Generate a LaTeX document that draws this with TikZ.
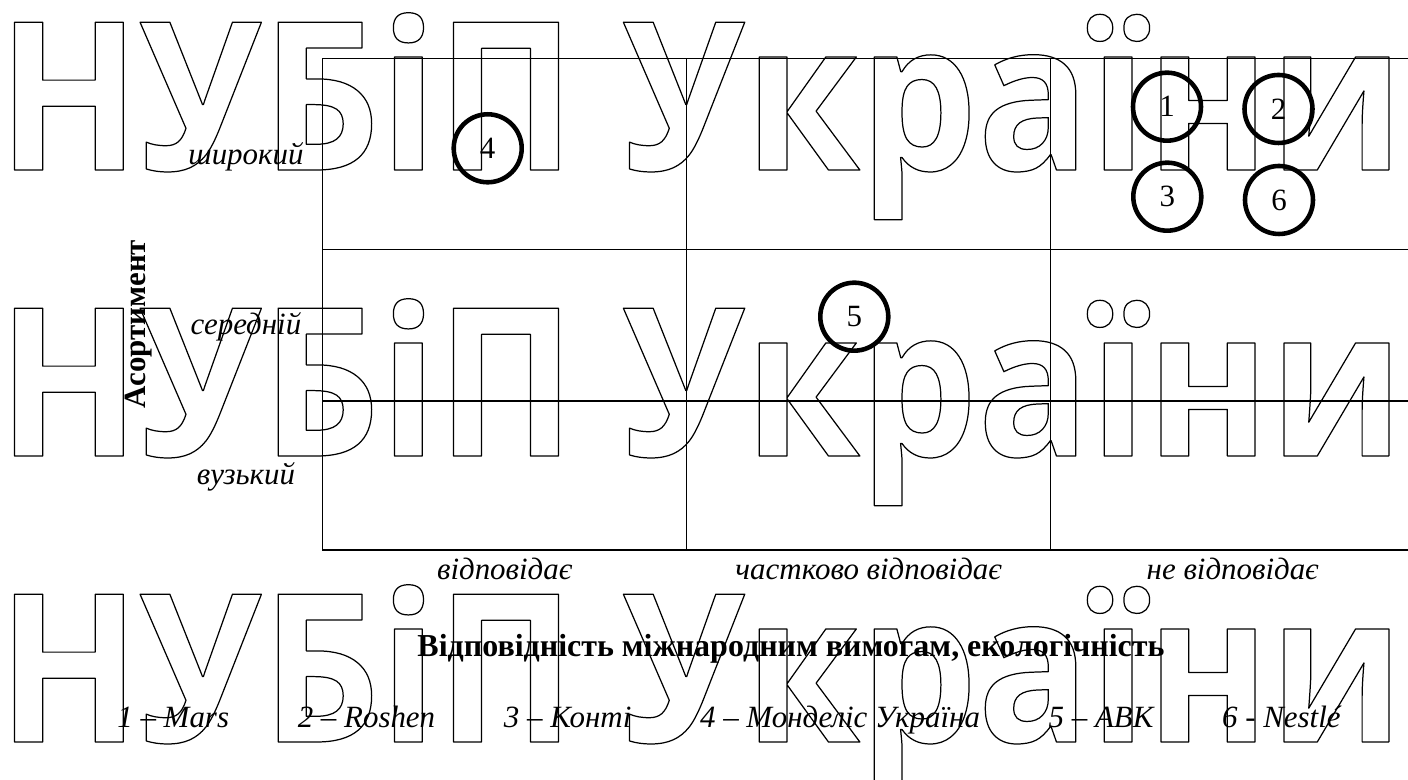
\documentclass[tikz,border=0pt]{standalone}
\usepackage{fontspec}
\setmainfont{Liberation Serif}
\newfontfamily\wmfont{Open Sans}[FakeStretch=0.898]
\usetikzlibrary{positioning}
% outlined (stroked) glyphs for the watermark
\newcommand{\hollow}[1]{\special{pdf:literal direct 1 Tr 0.7 w 1 j}#1\special{pdf:literal direct 0 Tr}}

\begin{document}
\begin{tikzpicture}[
  every node/.style={font=\fontsize{17.6}{21}\selectfont},
  rowlabel/.style={anchor=base, inner sep=0pt, font=\fontsize{17.6}{21}\selectfont\itshape},
  legend/.style={anchor=base west, inner sep=0pt, font=\fontsize{17.6}{21}\selectfont\itshape},
  firm/.style={circle, draw, line width=2.6pt, minimum size=1.36cm, inner sep=0pt},
  watermark/.style={anchor=base west, inner sep=0pt,
    font=\fontsize{117.8}{120}\selectfont\wmfont\bfseries}
]
  \useasboundingbox (0,0) rectangle (28.16,15.6);

  % Watermark
  \node[watermark] (wm1) at (-0.05,12.2) {\hollow{НУБіП України}};
  \node[watermark] (wm2) at (-0.05,6.48) {\hollow{НУБіП України}};
  \node[watermark] (wm3) at (-0.05,0.76) {\hollow{НУБіП України}};

  % Matrix
  \draw[line width=0.7pt] (6.454,4.6) rectangle (28.294,14.434);
  \foreach \x in {13.734,21.014}
    \draw[line width=0.7pt] (\x,4.6) -- (\x,14.434);
  \foreach \y in {7.58,10.614}
    \draw[line width=0.7pt] (6.454,\y) -- (28.294,\y);

  % Axes
  \node[rowlabel] (wide) at (4.92,12.3) {широкий};
  \node[rowlabel] (mid) at (4.92,8.9) {середній};
  \node[rowlabel] (narrow) at (4.92,5.9) {вузький};
  \node[anchor=base, inner sep=0pt, rotate=90,
        font=\fontsize{17.6}{21}\selectfont\bfseries] (yaxis) at (2.9,9.12) {Асортимент};

  \node[rowlabel] (fits) at (10.094,4.0) {відповідає};
  \node[rowlabel] (partly) at (17.374,4.0) {частково відповідає};
  \node[rowlabel] (nofit) at (24.654,4.0) {не відповідає};
  \node[anchor=base, inner sep=0pt,
        font=\fontsize{18.2}{21}\selectfont\bfseries] (xaxis) at (15.82,2.466)
        {Відповідність міжнародним вимогам, екологічність};

  % Firms
  \node[firm] (f4) at (9.754,12.634) {4};
  \node[firm] (f1) at (23.34,13.466) {1};
  \node[firm] (f2) at (25.57,13.42) {2};
  \node[firm] (f3) at (23.346,11.666) {3};
  \node[firm] (f6) at (25.58,11.6) {6};
  \node[firm] (f5) at (17.086,9.266) {5};

  % Legend
  \node[legend] (l1) at (2.34,1.04) {1 – Mars};
  \node[legend, base right=1.36cm of l1] (l2) {2 – Roshen};
  \node[legend, base right=1.36cm of l2] (l3) {3 – Конті};
  \node[legend, base right=1.36cm of l3] (l4) {4 – Монделіс Україна};
  \node[legend, base right=1.36cm of l4] (l5) {5 – АВК};
  \node[legend, base right=1.36cm of l5] (l6) {6 - Nestlé};
\end{tikzpicture}
\end{document}
